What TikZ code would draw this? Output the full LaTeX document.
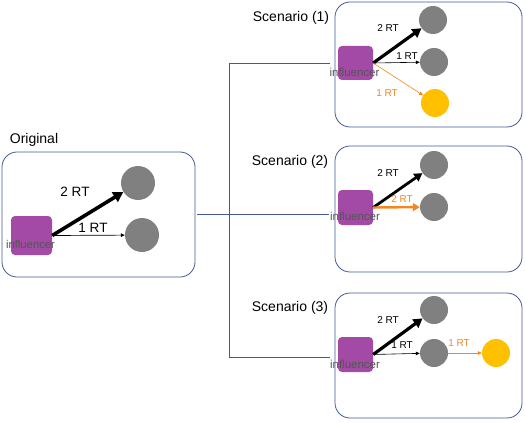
\documentclass[tikz,border=0pt]{standalone}
\usepackage{fontspec}
\setmainfont{Liberation Sans}
\usetikzlibrary{arrows.meta}
\definecolor{boxblue}{RGB}{70,88,150}
\definecolor{infpurple}{RGB}{162,74,166}
\definecolor{nodegray}{RGB}{128,128,128}
\definecolor{rtorange}{RGB}{242,135,34}
\definecolor{rtyellow}{RGB}{255,192,0}
\definecolor{inftext}{RGB}{85,85,85}
\tikzset{
  panel/.style={draw=boxblue, line width=0.8pt, rounded corners=15pt, fill=white},
  infsq/.style={fill=infpurple, draw=none, rounded corners=4pt, inner sep=0pt},
  usernode/.style={circle, fill=nodegray, draw=none, inner sep=0pt},
  yelnode/.style={circle, fill=rtyellow, draw=none, inner sep=0pt},
  inflabel/.style={text=inftext, inner sep=0.5pt},
  title/.style={font=\fontsize{14}{16}\selectfont, inner sep=0pt},
  rtbig/.style={font=\fontsize{13.5}{15}\selectfont, inner sep=0pt},
  rtsmall/.style={font=\fontsize{10}{12}\selectfont, inner sep=0pt},
  thickarrow/.style={line width=3.2pt, -{Triangle[length=9pt,width=10pt]}},
  thinarrow/.style={line width=0.6pt, -{Triangle[length=4pt,width=3.5pt]}},
  orangethin/.style={rtorange, line width=0.6pt, -{Triangle[length=4pt,width=3.5pt]}},
  orangethick/.style={rtorange, line width=2.4pt, -{Triangle[length=7pt,width=8pt]}},
  conn/.style={draw=boxblue, line width=0.8pt},
}
\begin{document}
\begin{tikzpicture}[x=1pt,y=-1pt]
\useasboundingbox (0,0) rectangle (526,422);

% ---------- Original ----------
\node[title] (torig) at (34,140) {Original};
\draw[panel] (2,152) rectangle (195,277);
\coordinate (origE) at (195,214.5);
\node[infsq, minimum width=41pt, minimum height=39pt] (sq0) at (31.5,235.5) {};
\node[inflabel, font=\fontsize{11.3}{13}\selectfont] (inf0) at (30.5,244) {influencer};
\node[usernode, minimum size=34pt] (a0) at (138,183) {};
\node[usernode, minimum size=34pt] (b0) at (142,235) {};
\draw[thickarrow, line width=3.6pt, -{Triangle[length=10pt,width=11pt]}] (sq0.east) -- (a0);
\draw[thinarrow, line width=0.7pt] (sq0.east) -- (b0);
\node[rtbig] (l0a) at (75,192) {2 RT};
\node[rtbig] (l0b) at (93,228) {1 RT};

% ---------- Scenario (1) ----------
\node[title] (t1) at (291,18) {Scenario (1)};
\draw[panel] (335,2) rectangle (522,127);
\node[infsq, minimum width=35pt, minimum height=34pt] (sq1) at (355.5,63) {};
\node[inflabel, font=\fontsize{11.5}{13}\selectfont] (inf1) at (354.5,72) {influencer};
\node[usernode, minimum size=28pt] (a1) at (433,20) {};
\node[usernode, minimum size=28pt] (b1) at (434,62) {};
\node[yelnode, minimum size=28pt] (c1) at (435,103) {};
\draw[thickarrow] (sq1.east) -- (a1);
\draw[thinarrow] (sq1.east) -- (b1);
\draw[orangethin] (sq1.east) -- (c1);
\node[rtsmall] (l1a) at (388,28) {2 RT};
\node[rtsmall] (l1b) at (407,56) {1 RT};
\node[rtsmall, text=rtorange] (l1c) at (387,93) {1 RT};

% ---------- Scenario (2) ----------
\node[title] (t2) at (290,162) {Scenario (2)};
\draw[panel] (335,146) rectangle (522,272);
\node[infsq, minimum width=35pt, minimum height=35pt] (sq2) at (355.5,207.5) {};
\node[inflabel, font=\fontsize{11.5}{13}\selectfont] (inf2) at (355,216) {influencer};
\node[usernode, minimum size=28pt] (a2) at (434,165) {};
\node[usernode, minimum size=28pt] (b2) at (434,207) {};
\draw[thickarrow, line width=2.8pt, -{Triangle[length=8pt,width=9pt]}] (sq2.east) -- (a2);
\draw[orangethick] (sq2.east) -- (b2);
\node[rtsmall] (l2a) at (388,173) {2 RT};
\node[rtsmall, text=rtorange] (l2b) at (402,199) {2 RT};

% ---------- Scenario (3) ----------
\node[title] (t3) at (290,308) {Scenario (3)};
\draw[panel] (335,293) rectangle (522,418);
\node[infsq, minimum width=35pt, minimum height=35pt] (sq3) at (355.5,354.5) {};
\node[inflabel, font=\fontsize{11.5}{13}\selectfont] (inf3) at (355,364) {influencer};
\node[usernode, minimum size=28pt] (a3) at (434,310) {};
\node[usernode, minimum size=28pt] (b3) at (434,353) {};
\node[yelnode, minimum size=28pt] (c3) at (496,353) {};
\draw[thickarrow] (sq3.east) -- (a3);
\draw[thinarrow] (sq3.east) -- (b3);
\draw[orangethin] (b3) -- (c3);
\node[rtsmall] (l3a) at (388,320) {2 RT};
\node[rtsmall] (l3b) at (402,345) {1 RT};
\node[rtsmall, text=rtorange] (l3c) at (459,343) {1 RT};

% ---------- connectors ----------
\coordinate (j1) at (229,63);
\coordinate (j3) at (229,357);
\coordinate (e1) at (330,63);
\coordinate (e3) at (330,357);
\draw[conn] (e1) -- (j1) -- (j3) -- (e3);
\draw[conn] ([xshift=2pt]origE) -- (inf2.west |- origE);
\end{tikzpicture}
\end{document}
